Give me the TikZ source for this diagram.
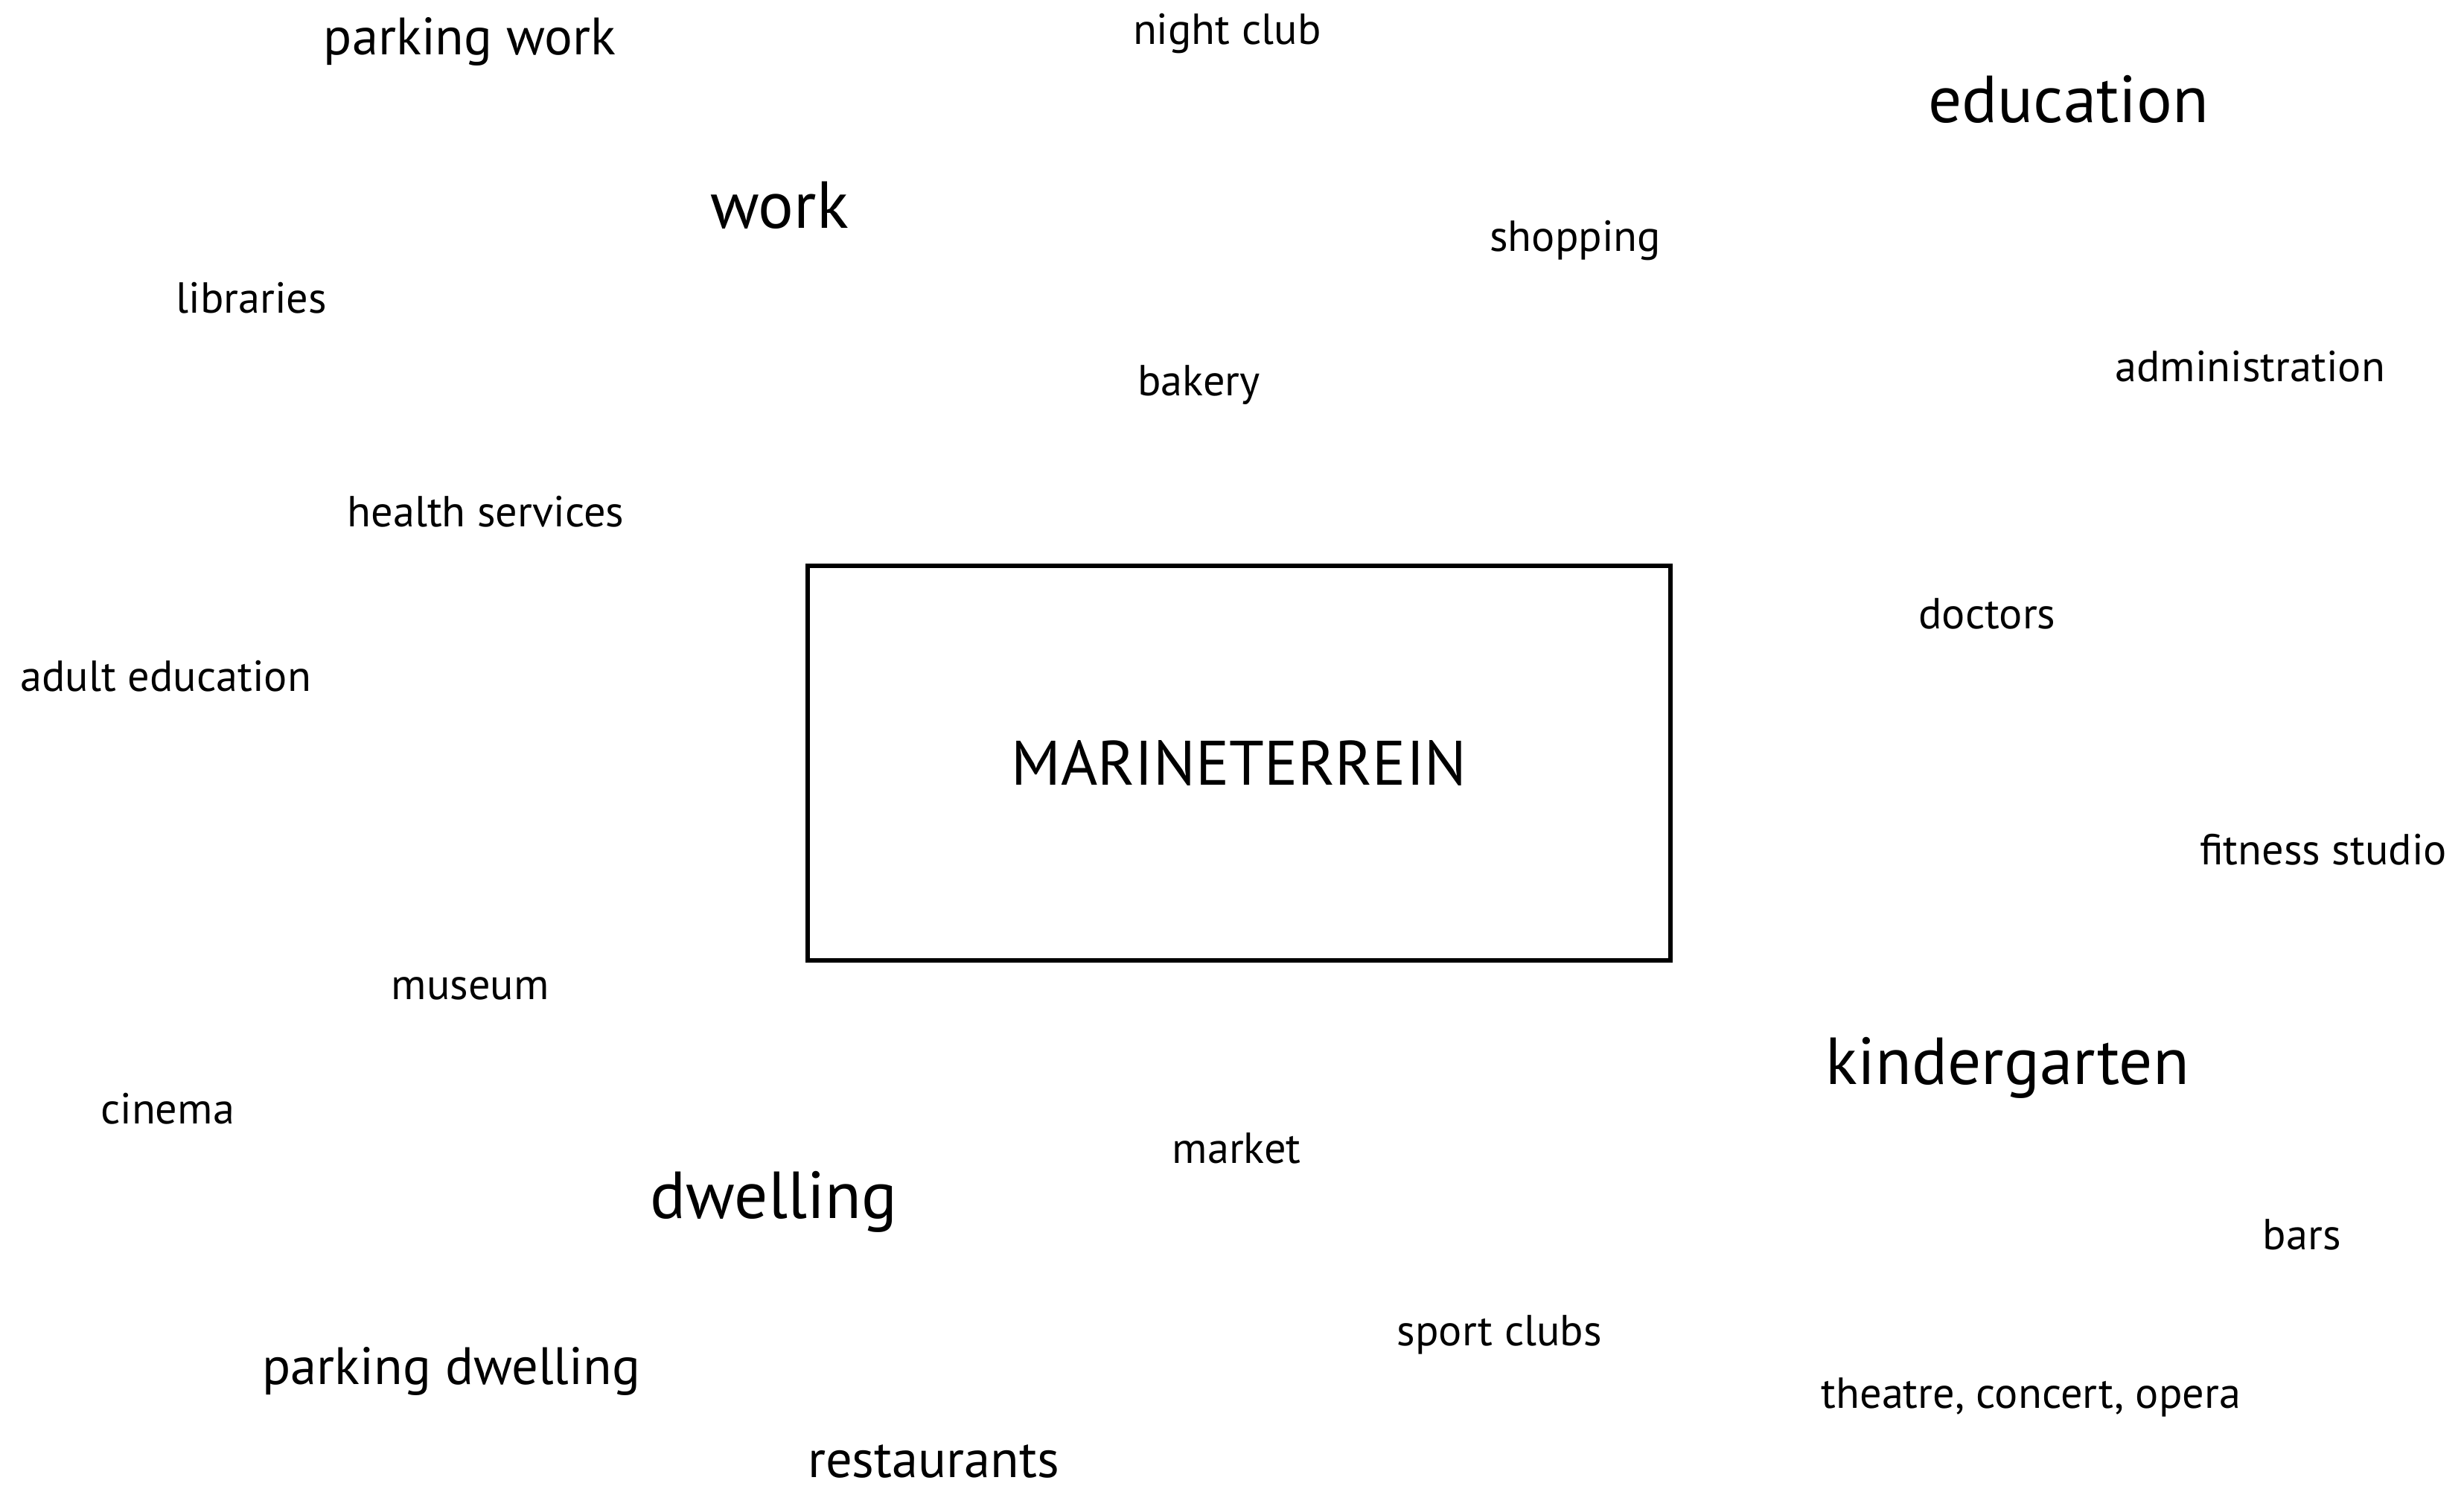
\documentclass[tikz,border=0pt]{standalone}
\usepackage{fontspec}
\setmainfont{PT Sans}
\begin{document}
\begin{tikzpicture}[x=0.02111cm,y=-0.02111cm,
  lbl/.style={anchor=base west,inner sep=0pt,outer sep=0pt},
  sm/.style={lbl,font=\fontsize{16.6}{19}\selectfont},
  md/.style={lbl,font=\fontsize{20.1}{23}\selectfont},
  lg/.style={lbl,font=\fontsize{25.4}{28}\selectfont},
  mainbox/.style={draw,line width=1.6pt,minimum width=11.59cm,minimum height=5.30cm,inner sep=0pt,font=\fontsize{24}{27}\selectfont}]
\useasboundingbox[fill=white] (0,0) rectangle (1568,947);
\node[mainbox] (mt) at (788.5,485.5) {MARINETERREIN};
\node[md] (pw) at (206,35) {parking work};
\node[sm] (nc) at (721,28) {night club};
\node[lg] (ed) at (1227,78) {education};
\node[lg] (wk) at (452,145) {work};
\node[sm] (sh) at (948,160) {shopping};
\node[sm] (lb) at (112,199) {libraries};
\node[sm] (bk) at (724,252) {bakery};
\node[sm] (ad) at (1346,243) {administration};
\node[sm] (hs) at (221,335) {health services};
\node[sm] (dc) at (1221,400) {doctors};
\node[sm] (ae) at (13,440) {adult education};
\node[sm] (fs) at (1400,550) {fitness studio};
\node[sm] (mu) at (249,636) {museum};
\node[lg] (kg) at (1162,690) {kindergarten};
\node[sm] (ci) at (64,715) {cinema};
\node[sm] (mk) at (746,740) {market};
\node[lg] (dw) at (414,775) {dwelling};
\node[sm] (ba) at (1440,795) {bars};
\node[sm] (sc) at (889,856) {sport clubs};
\node[md] (pd) at (167,881) {parking dwelling};
\node[sm] (th) at (1159,896) {theatre, concert, opera};
\node[md] (re) at (514,940) {restaurants};
\end{tikzpicture}
\end{document}
